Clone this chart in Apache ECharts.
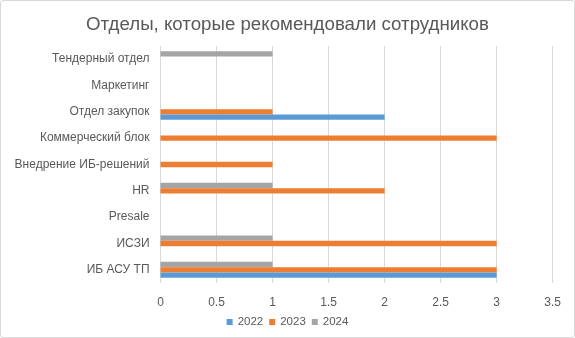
<!DOCTYPE html>
<html>
<head>
<meta charset="utf-8">
<script src="https://cdn.jsdelivr.net/npm/echarts@6/dist/echarts.min.js"></script>
<style>
  html, body { margin: 0; padding: 0; background: #fff; }
  #frame { position: absolute; left: 0; top: 0; width: 573px; height: 336px; border: 1px solid #d9d9d9; border-radius: 3px; }
  #chart { position: absolute; left: 0; top: 0; width: 575px; height: 338px; }
</style>
</head>
<body>
<div id="frame"></div>
<div id="chart"></div>
<script>
// Departments, listed from the bottom of the axis upward
const categories = ['ИБ АСУ ТП', 'ИСЗИ', 'Presale', 'HR', 'Внедрение ИБ-решений', 'Коммерческий блок', 'Отдел закупок', 'Маркетинг', 'Тендерный отдел'];
const years = ['2022', '2023', '2024'];
const values2022 = [3, 0, 0, 0, 0, 0, 2, 0, 0];
const values2023 = [3, 3, 0, 2, 1, 3, 1, 0, 0];
const values2024 = [1, 1, 0, 1, 0, 0, 0, 0, 1];
const colors = ['#5b9bd5', '#ed7d31', '#a5a5a5'];

const font = '"Liberation Sans", Arial, sans-serif';
const chart = echarts.init(document.getElementById('chart'), null, { renderer: 'canvas' });

const seriesData = [values2022, values2023, values2024];
// Later years sit above earlier ones inside each category band,
// so the series are added newest first while the legend keeps year order.
const seriesList = years.map((y, i) => ({
  name: y,
  type: 'bar',
  data: seriesData[i],
  itemStyle: { color: colors[i] },
  barGap: '0%',
  barCategoryGap: '39%'
})).reverse();

chart.setOption({
  animation: false,
  title: {
    text: 'Отделы, которые рекомендовали сотрудников',
    left: 'center',
    top: 10,
    textStyle: { fontFamily: font, fontSize: 18.7, fontWeight: 'normal', color: '#595959' }
  },
  legend: {
    data: years,
    bottom: 5,
    left: 'center',
    itemWidth: 6,
    itemHeight: 6,
    itemGap: 6,
    icon: 'rect',
    textStyle: { fontFamily: font, fontSize: 11.5, color: '#595959' }
  },
  grid: { left: 160.5, right: 22.3, top: 46, bottom: 55, containLabel: false },
  xAxis: {
    type: 'value',
    min: 0,
    max: 3.5,
    interval: 0.5,
    axisLine: { show: false },
    axisTick: { show: false },
    splitLine: { lineStyle: { color: '#d9d9d9', width: 1 } },
    axisLabel: { fontFamily: font, fontSize: 12, color: '#595959', margin: 14 }
  },
  yAxis: {
    type: 'category',
    data: categories,
    axisLine: { show: false },
    axisTick: { show: false },
    axisLabel: { fontFamily: font, fontSize: 12, color: '#595959', margin: 11 }
  },
  series: seriesList
});
</script>
</body>
</html>
